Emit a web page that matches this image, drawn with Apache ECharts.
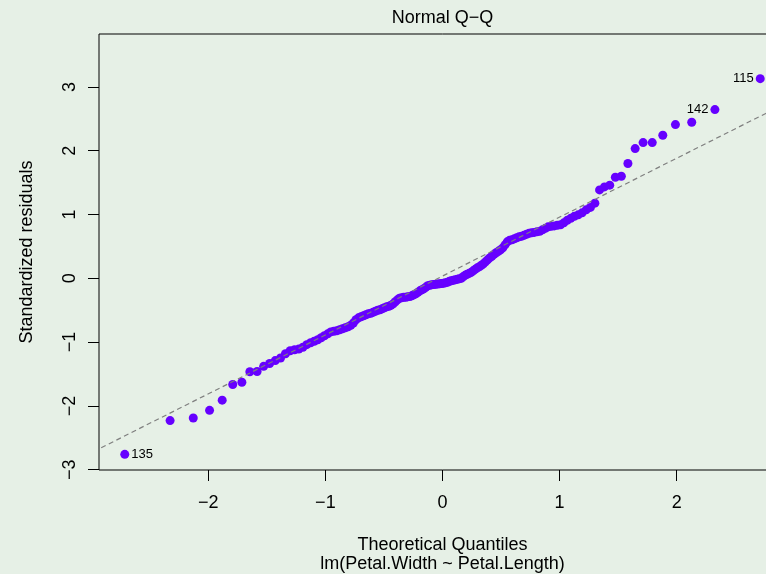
<!DOCTYPE html>
<html>
<head>
<meta charset="utf-8">
<script src="https://cdn.jsdelivr.net/npm/echarts@6/dist/echarts.min.js"></script>
<style>
html,body{margin:0;padding:0;background:#e6f0e6;overflow:hidden;width:766px;height:574px;}
#chart{width:820px;height:574px;}
</style>
</head>
<body>
<div id="chart"></div>
<script>
// Theoretical quantiles (x) of the 150 sorted standardized residuals
const theoreticalQuantiles = [
-2.713,-2.326,-2.128,-1.989,-1.881,-1.791,-1.713,-1.645,-1.583,-1.527,
-1.476,-1.428,-1.383,-1.341,-1.301,-1.263,-1.227,-1.192,-1.159,-1.126,
-1.095,-1.065,-1.036,-1.008,-0.980,-0.954,-0.928,-0.903,-0.878,-0.854,
-0.830,-0.806,-0.783,-0.761,-0.739,-0.717,-0.696,-0.674,-0.654,-0.633,
-0.613,-0.593,-0.573,-0.553,-0.534,-0.515,-0.496,-0.477,-0.458,-0.440,
-0.421,-0.403,-0.385,-0.367,-0.349,-0.332,-0.314,-0.297,-0.279,-0.262,
-0.245,-0.228,-0.210,-0.193,-0.176,-0.160,-0.143,-0.126,-0.109,-0.092,
-0.075,-0.059,-0.042,-0.025,-0.008,
0.008,0.025,0.042,0.059,0.075,0.092,0.109,0.126,0.143,0.160,
0.176,0.193,0.210,0.228,0.245,0.262,0.279,0.297,0.314,0.332,
0.349,0.367,0.385,0.403,0.421,0.440,0.458,0.477,0.496,0.515,
0.534,0.553,0.573,0.593,0.613,0.633,0.654,0.674,0.696,0.717,
0.739,0.761,0.783,0.806,0.830,0.854,0.878,0.903,0.928,0.954,
0.980,1.008,1.036,1.065,1.095,1.126,1.159,1.192,1.227,1.263,
1.301,1.341,1.383,1.428,1.476,1.527,1.583,1.645,1.713,1.791,
1.881,1.989,2.128,2.326,2.713
];
// Sorted standardized residuals (y)
const standardizedResiduals = [
-2.76,-2.23,-2.19,-2.07,-1.91,-1.665,-1.63,-1.465,-1.46,-1.38,
-1.335,-1.29,-1.25,-1.183,-1.136,-1.12,-1.11,-1.08,-1.04,-1.01,
-0.987,-0.963,-0.932,-0.90,-0.87,-0.84,-0.83,-0.822,-0.807,-0.79,
-0.775,-0.76,-0.736,-0.70,-0.65,-0.62,-0.603,-0.587,-0.572,-0.556,
-0.548,-0.533,-0.517,-0.50,-0.493,-0.478,-0.462,-0.447,-0.439,-0.423,
-0.40,-0.368,-0.337,-0.313,-0.305,-0.298,-0.298,-0.29,-0.285,-0.274,
-0.258,-0.243,-0.219,-0.196,-0.18,-0.165,-0.141,-0.117,-0.11,-0.102,
-0.097,-0.094,-0.091,-0.086,-0.083,
-0.078,-0.07,-0.063,-0.047,-0.039,-0.031,-0.024,-0.016,-0.008,0.0,
0.024,0.047,0.063,0.078,0.094,0.117,0.141,0.164,0.18,0.204,
0.227,0.258,0.29,0.32,0.345,0.376,0.40,0.423,0.447,0.478,
0.525,0.572,0.595,0.603,0.619,0.634,0.65,0.658,0.674,0.689,
0.705,0.713,0.72,0.728,0.736,0.76,0.783,0.807,0.815,0.822,
0.83,0.838,0.87,0.909,0.94,0.971,0.995,1.026,1.073,1.112,
1.178,1.386,1.433,1.46,1.585,1.60,1.80,2.034,2.128,2.128,
2.243,2.41,2.447,2.645,3.13
];
// Identified observations
const idLabels = ['135','142','115'];
const idIndices = [0,148,149];
const idSides = ['right','left','left'];
// Reference line through the quartiles
const qqAnchorX = [-0.674, 0.674];
const qqAnchorY = [-0.587, 0.658];
// Tick values
const xTicks = [-2,-1,0,1,2];
const yTicks = [-3,-2,-1,0,1,2,3];
// Axis ranges
const xRange = [-2.933, 2.933];
const yRange = [-3.005, 3.83];

const FONT = '"Liberation Sans", Arial, Helvetica, sans-serif';
const fmt = v => String(v).replace('-', '\u2212');

const points = theoreticalQuantiles.map((x, i) => {
  const k = idIndices.indexOf(i);
  const item = { value: [x, standardizedResiduals[i]] };
  if (k >= 0) {
    item.label = {
      show: true, formatter: idLabels[k], position: idSides[k],
      distance: 2, fontSize: 13, color: '#000', fontFamily: FONT
    };
  }
  return item;
});

const slope = (qqAnchorY[1] - qqAnchorY[0]) / (qqAnchorX[1] - qqAnchorX[0]);
const intercept = qqAnchorY[0] - slope * qqAnchorX[0];
const lineX = [xRange[0] - 0.5, xRange[1] + 0.5];
const lineData = lineX.map(x => [x, intercept + slope * x]);

const chart = echarts.init(document.getElementById('chart'), null, { renderer: 'canvas', width: 820, height: 574 });
chart.setOption({
  animation: false,
  backgroundColor: '#e6f0e6',
  textStyle: { fontFamily: FONT },
  grid: {
    left: 99, top: 34, width: 687, height: 436,
    show: true, borderColor: '#000', borderWidth: 1, backgroundColor: 'transparent'
  },
  xAxis: {
    type: 'value', min: xRange[0], max: xRange[1],
    axisLine: { show: false, onZero: false },
    splitLine: { show: false },
    axisTick: { show: true, customValues: xTicks, length: 11, lineStyle: { color: '#000', width: 1 } },
    axisLabel: { customValues: xTicks, formatter: fmt, fontSize: 18, color: '#000', margin: 24, fontFamily: FONT }
  },
  yAxis: {
    type: 'value', min: yRange[0], max: yRange[1],
    axisLine: { show: false, onZero: false },
    splitLine: { show: false },
    axisTick: { show: true, customValues: yTicks, length: 11, lineStyle: { color: '#000', width: 1 } },
    axisLabel: { customValues: yTicks, formatter: fmt, fontSize: 18, color: '#000', margin: 20, rotate: 90, fontFamily: FONT }
  },
  graphic: [
    { type: 'text', x: 442.5, y: 18, style: { text: 'Normal Q\u2212Q', fill: '#000', font: '18px ' + FONT, textAlign: 'center', textVerticalAlign: 'middle' } },
    { type: 'text', x: 442.5, y: 545, style: { text: 'Theoretical Quantiles', fill: '#000', font: '18px ' + FONT, textAlign: 'center', textVerticalAlign: 'middle' } },
    { type: 'text', x: 442.5, y: 564, style: { text: 'lm(Petal.Width ~ Petal.Length)', fill: '#000', font: '18px ' + FONT, textAlign: 'center', textVerticalAlign: 'middle' } },
    { type: 'text', x: 27, y: 252, rotation: Math.PI / 2, style: { text: 'Standardized residuals', fill: '#000', font: '18px ' + FONT, textAlign: 'center', textVerticalAlign: 'middle' } }
  ],
  series: [
    {
      type: 'scatter', data: points, symbol: 'circle', symbolSize: 9,
      itemStyle: { color: '#6600ff', opacity: 1 }, z: 2
    },
    {
      type: 'line', data: lineData, symbol: 'none', clip: true, z: 3,
      lineStyle: { color: '#7f7f7f', width: 1.2, type: [5, 3.5] }
    }
  ]
});
</script>
</body>
</html>
